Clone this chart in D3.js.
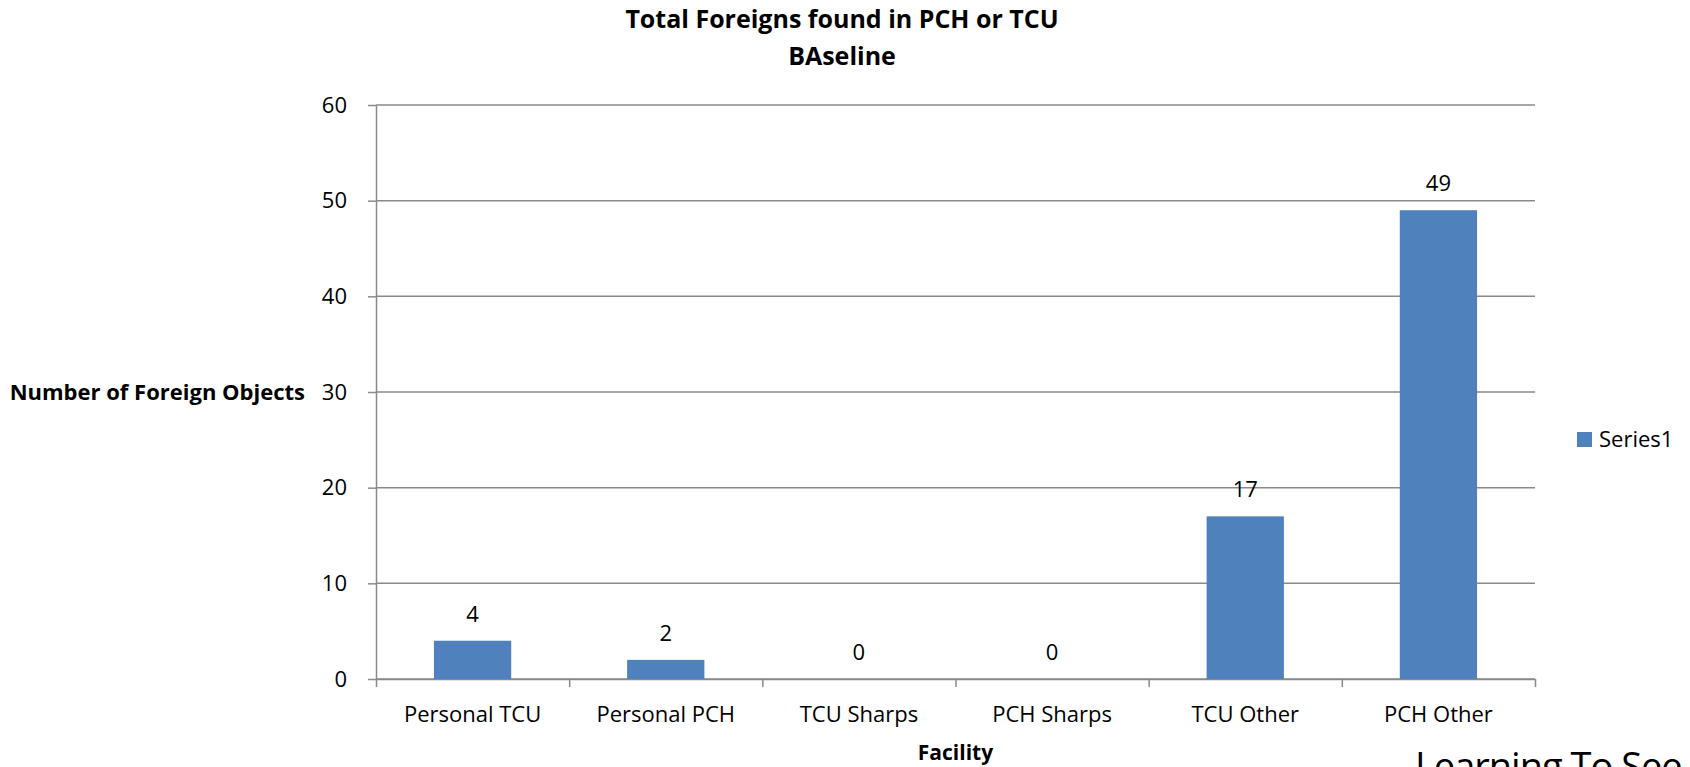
<!DOCTYPE html>
<html>
<head>
<meta charset="utf-8">
<script src="https://cdn.jsdelivr.net/npm/d3@7"></script>
<style>
  body { margin: 0; background: #fff; }
  svg text { font-family: "Open Sans", sans-serif; fill: #000; }
</style>
</head>
<body>
<svg id="chart" width="1690" height="767"></svg>
<script>
// chart data
const categories = ["Personal TCU", "Personal PCH", "TCU Sharps", "PCH Sharps", "TCU Other", "PCH Other"];
const values = [4, 2, 0, 0, 17, 49];
const yTicks = [0, 10, 20, 30, 40, 50, 60];
const seriesName = "Series1";
const titleLines = ["Total Foreigns found in PCH or TCU", "BAseline"];
const xTitle = "Facility";
const yTitle = "Number of Foreign Objects";

const svg = d3.select("#chart");
const plot = { left: 376, right: 1535, top: 105, bottom: 679 };
const gridColor = "#8a8a8a";
const barColor = "#4f81bd";

// scales
const x = d3.scaleBand()
  .domain(categories)
  .range([plot.left, plot.right])
  .paddingInner(0.6)
  .paddingOuter(0.3);

const y = d3.scaleLinear()
  .domain([0, 60])
  .range([plot.bottom, plot.top]);

// category boundary ticks
const xEdges = d3.scaleLinear()
  .domain([0, categories.length])
  .range([plot.left, plot.right]);

// gridlines
svg.append("g")
  .selectAll("line")
  .data(yTicks)
  .join("line")
  .attr("x1", plot.left)
  .attr("x2", plot.right)
  .attr("y1", d => y(d))
  .attr("y2", d => y(d))
  .attr("stroke", gridColor)
  .attr("stroke-width", 1.5);

// y axis
const yAxis = svg.append("g")
  .attr("transform", `translate(${plot.left},0)`)
  .call(d3.axisLeft(y).tickValues(yTicks).tickSize(8).tickPadding(21).tickSizeOuter(0));
yAxis.select(".domain").attr("stroke", gridColor).attr("stroke-width", 1.5);
yAxis.selectAll(".tick line").attr("stroke", gridColor).attr("stroke-width", 1.5);
yAxis.selectAll(".tick text").style("font-size", "22px").attr("fill", "#000");

// x axis: boundary ticks
const xTickAxis = svg.append("g")
  .attr("transform", `translate(0,${plot.bottom})`)
  .call(d3.axisBottom(xEdges).tickValues(d3.range(categories.length + 1)).tickFormat("").tickSize(8).tickSizeOuter(0));
xTickAxis.select(".domain").attr("stroke", gridColor).attr("stroke-width", 1.5);
xTickAxis.selectAll(".tick line").attr("stroke", gridColor).attr("stroke-width", 1.5);

// x axis: category labels
const xLabelAxis = svg.append("g")
  .attr("transform", `translate(0,${plot.bottom})`)
  .call(d3.axisBottom(x).tickSize(0).tickPadding(27));
xLabelAxis.select(".domain").remove();
xLabelAxis.selectAll(".tick text").style("font-size", "22px").attr("fill", "#000");

// bars
svg.append("g")
  .selectAll("rect")
  .data(values)
  .join("rect")
  .attr("x", (d, i) => x(categories[i]))
  .attr("y", d => y(d))
  .attr("width", x.bandwidth())
  .attr("height", d => y(0) - y(d))
  .attr("fill", barColor);

// value labels
svg.append("g")
  .selectAll("text")
  .data(values)
  .join("text")
  .attr("x", (d, i) => x(categories[i]) + x.bandwidth() / 2)
  .attr("y", d => y(d) - 19)
  .attr("text-anchor", "middle")
  .style("font-size", "22px")
  .text(d => d);

// title
svg.append("g")
  .selectAll("text")
  .data(titleLines)
  .join("text")
  .attr("x", 842)
  .attr("y", (d, i) => 28 + i * 37)
  .attr("text-anchor", "middle")
  .style("font-size", "25px")
  .style("font-weight", "bold")
  .text(d => d);

// axis titles
svg.append("text")
  .attr("x", (plot.left + plot.right) / 2)
  .attr("y", 760)
  .attr("text-anchor", "middle")
  .style("font-size", "21px")
  .style("font-weight", "bold")
  .text(xTitle);

svg.append("text")
  .attr("x", 305)
  .attr("y", y(30))
  .attr("dy", "0.35em")
  .attr("text-anchor", "end")
  .style("font-size", "22px")
  .style("font-weight", "bold")
  .text(yTitle);

// legend
const legend = svg.append("g").attr("transform", "translate(1577,432)");
legend.append("rect")
  .attr("width", 15)
  .attr("height", 15)
  .attr("fill", barColor);
legend.append("text")
  .attr("x", 22)
  .attr("y", 7.5)
  .attr("dy", "0.35em")
  .style("font-size", "22px")
  .text(seriesName);

// watermark, cut off by the bottom edge as in the source
svg.append("text")
  .attr("x", 1415)
  .attr("y", 780)
  .style("font-size", "38px")
  .style("letter-spacing", "-1px")
  .attr("fill", "#333")
  .text("Learning To See");
</script>
</body>
</html>
